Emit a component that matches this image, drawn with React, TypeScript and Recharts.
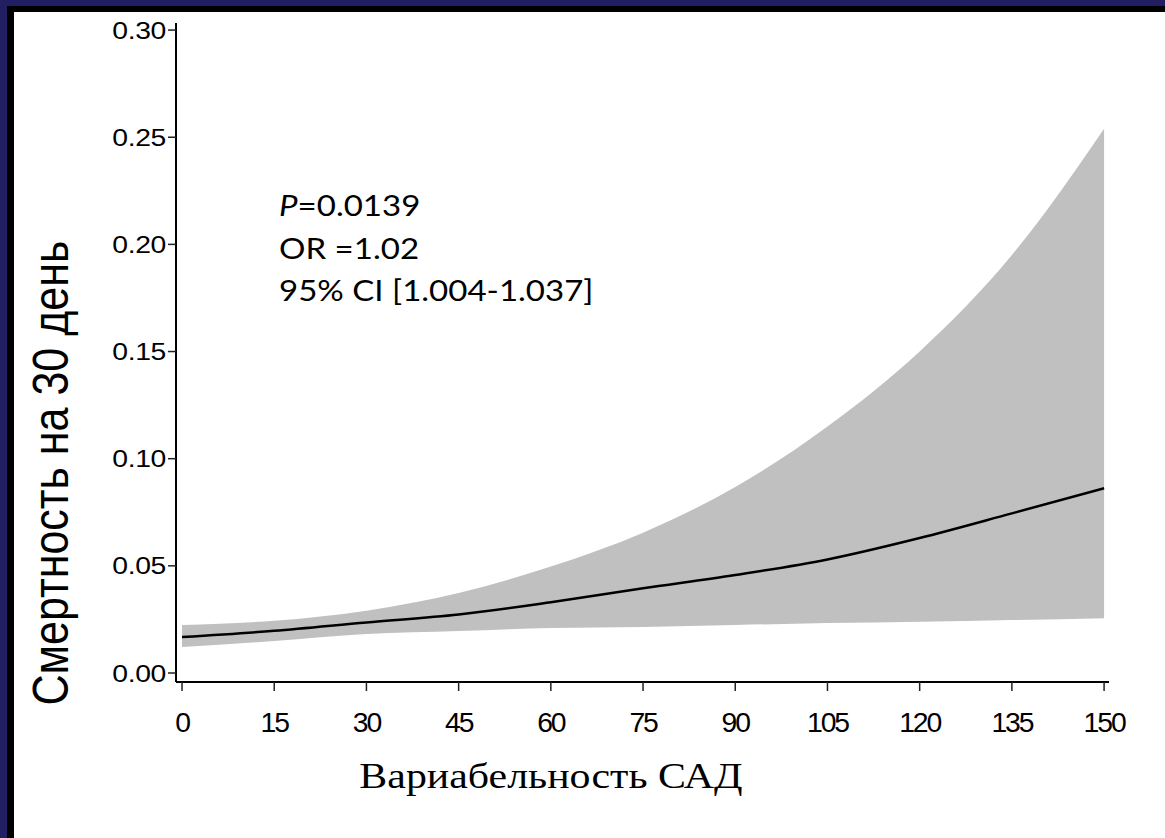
import React from 'react';
import { ComposedChart, Area, Line, XAxis, YAxis } from 'recharts';

const xValues = [0, 15, 30, 45, 60, 75, 90, 105, 120, 135, 150];
const meanValues = [0.0168, 0.0197, 0.0236, 0.0273, 0.033, 0.0395, 0.0457, 0.053, 0.063, 0.0745, 0.0862];
const lowerValues = [0.0121, 0.0149, 0.0182, 0.0196, 0.021, 0.0215, 0.0224, 0.0233, 0.0239, 0.0247, 0.0256];
const upperValues = [0.0224, 0.0244, 0.0291, 0.0373, 0.0497, 0.0655, 0.0868, 0.115, 0.15, 0.195, 0.254];
const xTicks = [0, 15, 30, 45, 60, 75, 90, 105, 120, 135, 150];
const yTicks = [0, 0.05, 0.1, 0.15, 0.2, 0.25, 0.3];
const yTitle = 'Смертность на 30 день';
const xTitle = 'Вариабельность САД';
const noteLines = ['=0.0139', 'OR =1.02', '95% CI [1.004-1.037]'];

const data = xValues.map((x, i) => ({ x, mean: meanValues[i], band: [lowerValues[i], upperValues[i]] }));

const SX = 1.18;
const sansTick = '"Liberation Sans", Arial, Helvetica, sans-serif';

const YTick = (props: any) => {
  const { x, y, payload } = props;
  return (
    <text transform={`translate(${x},${y}) scale(${SX},1)`} textAnchor="end" dy="0.36em" fontSize={24} fontFamily={sansTick} fill="#000" letterSpacing={-0.3}>
      {payload.value.toFixed(2)}
    </text>
  );
};

const XTick = (props: any) => {
  const { x, y, payload } = props;
  return (
    <text transform={`translate(${x},${y}) scale(1.05,1)`} textAnchor="middle" dy="0.71em" fontSize={27} fontFamily={sansTick} fill="#000" letterSpacing={-2}>
      {payload.value}
    </text>
  );
};

const YLabel = (props: any) => {
  const vb = props.viewBox || { x: 0, y: 23, width: 176, height: 659 };
  const cx = vb.x + 68;
  const cy = vb.y + vb.height * 0.683;
  return (
    <text transform={`translate(${cx},${cy}) scale(${SX},1) rotate(-90)`} textAnchor="middle" fontSize={43} fontFamily={sansTick} fill="#000">
      {yTitle}
    </text>
  );
};

const XLabel = (props: any) => {
  const vb = props.viewBox || { x: 176, y: 682, width: 933, height: 156 };
  const cx = vb.x + 375;
  const cy = vb.y + 106;
  return (
    <text transform={`translate(${cx},${cy}) scale(${SX},1)`} textAnchor="middle" fontSize={35.5} fontFamily='"Liberation Serif", "Times New Roman", serif' fill="#000">
      {xTitle}
    </text>
  );
};

export default function App() {
  return (
    <div style={{ position: 'absolute', left: 0, top: 0, width: 1165, height: 838, background: '#fff', overflow: 'hidden' }}>
      <ComposedChart width={1165} height={838} data={data} margin={{ top: 23, right: 56, left: 0, bottom: 0 }}>
        <XAxis
          xAxisId="b"
          dataKey="x"
          type="number"
          domain={[-0.98, 150.8]}
          allowDataOverflow
          ticks={xTicks}
          height={156}
          axisLine={{ stroke: '#000', strokeWidth: 2 }}
          tickLine={{ stroke: '#222', strokeWidth: 1.5 }}
          tickSize={9}
          tickMargin={22}
          tick={<XTick />}
          interval={0}
          label={<XLabel />}
        />
        <XAxis xAxisId="t" orientation="top" dataKey="x" type="number" domain={[-0.98, 150.8]} allowDataOverflow height={0} tick={false} tickLine={false} axisLine={{ stroke: '#444', strokeWidth: 1.5 }} />
        <YAxis
          yAxisId="l"
          type="number"
          domain={[-0.0042, 0.3033]}
          allowDataOverflow
          ticks={yTicks}
          width={176}
          axisLine={{ stroke: '#000', strokeWidth: 2 }}
          tickLine={{ stroke: '#222', strokeWidth: 1.5 }}
          tickSize={8}
          tickMargin={2}
          tick={<YTick />}
          interval={0}
          label={<YLabel />}
        />
        <YAxis yAxisId="r" orientation="right" type="number" domain={[-0.0042, 0.3033]} allowDataOverflow width={0} tick={false} tickLine={false} axisLine={{ stroke: '#777', strokeWidth: 2 }} />
        <Area xAxisId="b" yAxisId="l" dataKey="band" type="monotone" fill="#c0c0c0" fillOpacity={1} stroke="none" isAnimationActive={false} />
        <Line xAxisId="b" yAxisId="l" dataKey="mean" type="monotone" stroke="#000" strokeWidth={2.5} dot={false} isAnimationActive={false} />
      </ComposedChart>
      <div style={{ position: 'absolute', left: 279, top: 184, transformOrigin: 'left top', transform: `scale(${SX},1)`, fontFamily: 'Lato, "Open Sans", sans-serif', fontSize: 28, lineHeight: '42.5px', color: '#000', whiteSpace: 'nowrap' }}>
        <div><i>P</i>{noteLines[0]}</div>
        <div>{noteLines[1]}</div>
        <div>{noteLines[2]}</div>
      </div>
      <div style={{ position: 'absolute', left: 0, top: 0, width: 1165, height: 6, background: '#211f62' }} />
      <div style={{ position: 'absolute', left: 0, top: 6, width: 1165, height: 6, background: '#000' }} />
      <div style={{ position: 'absolute', left: 0, top: 0, width: 7, height: 838, background: '#211f62' }} />
      <div style={{ position: 'absolute', left: 7, top: 6, width: 7, height: 832, background: '#000' }} />
    </div>
  );
}
